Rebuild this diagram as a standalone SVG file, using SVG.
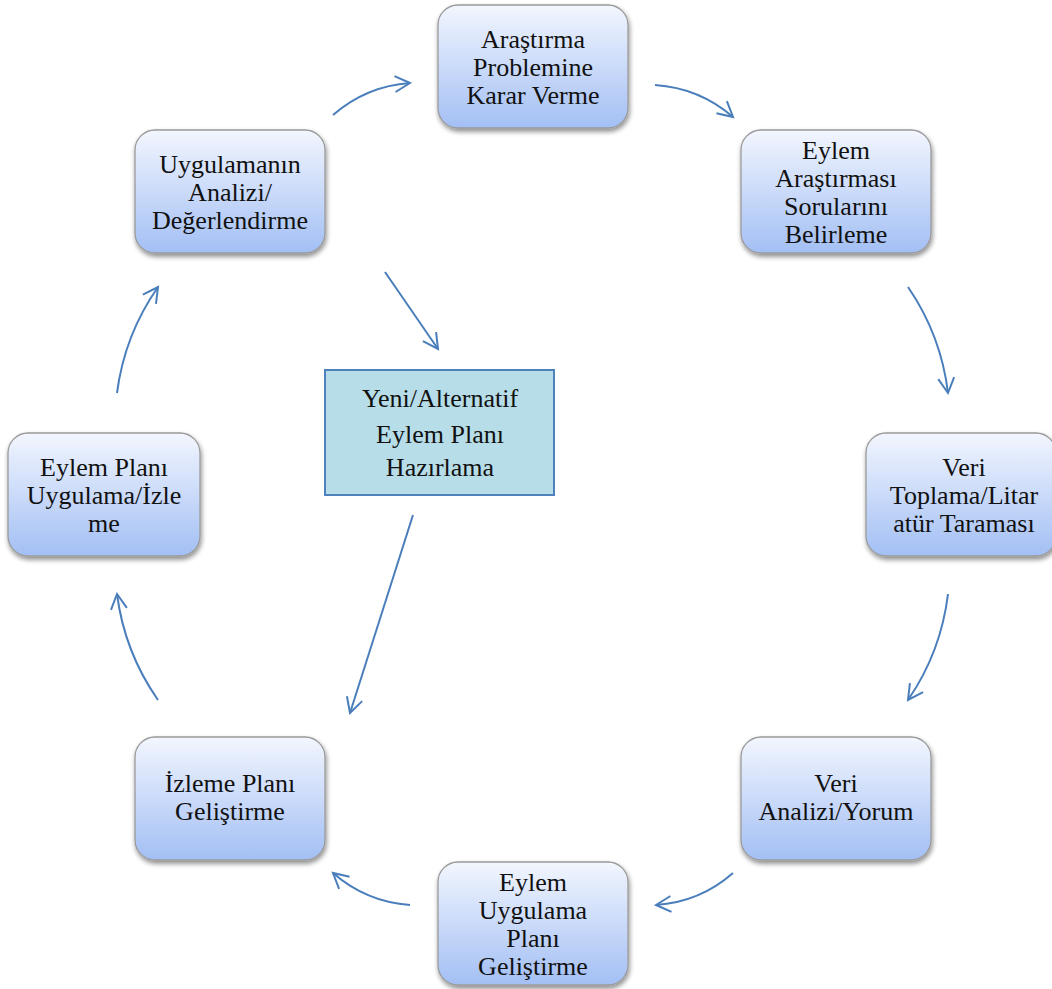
<svg xmlns="http://www.w3.org/2000/svg" width="1052" height="989" viewBox="0 0 1052 989">
<defs>
<linearGradient id="g" x1="0" y1="0" x2="0" y2="1">
<stop offset="0" stop-color="#f2f6fe"/>
<stop offset="1" stop-color="#a3bff4"/>
</linearGradient>
<filter id="sh" x="-10%" y="-10%" width="125%" height="130%">
<feGaussianBlur in="SourceAlpha" stdDeviation="2.5"/>
<feOffset dx="1" dy="3" result="b"/>
<feComponentTransfer><feFuncA type="linear" slope="0.45"/></feComponentTransfer>
<feMerge><feMergeNode/><feMergeNode in="SourceGraphic"/></feMerge>
</filter>
<marker id="ah" markerUnits="userSpaceOnUse" markerWidth="24" markerHeight="24" refX="16" refY="10" orient="auto">
<path d="M1,2 L16,10 L1,18" fill="none" stroke="#4a7ebb" stroke-width="2"/>
</marker>
</defs>
<style>
.n{fill:url(#g);stroke:#9a9a9a;stroke-width:1.3;filter:url(#sh)}
.t{font-family:"Liberation Serif","Times New Roman",serif;font-size:26px;fill:#111;text-anchor:middle}
.c{fill:none;stroke:#4a7ebb;stroke-width:2;marker-end:url(#ah)}
</style>
<rect width="1052" height="989" fill="#fff"/>
<g id="connectors">
<path class="c" d="M333,115 Q366.5,86 410,83"/>
<path class="c" d="M655,85 Q699.5,88 733,117"/>
<path class="c" d="M908,287 Q941,335 948,393"/>
<path class="c" d="M948,594 Q941,652 908,700"/>
<path class="c" d="M733,873 Q700,902 656,905"/>
<path class="c" d="M410,905 Q366.5,902 333,873"/>
<path class="c" d="M158,700 Q124.5,652 117,594"/>
<path class="c" d="M117,393 Q124.5,335 158,287"/>
<path class="c" d="M385,272 L438,349"/>
<path class="c" d="M413,515 L350,713"/>
</g>
<g id="n1"><rect class="n" x="438" y="5" width="190" height="123" rx="20"/>
<text class="t" x="533" y="47.5">Araştırma</text><text class="t" x="533" y="75.5">Problemine</text><text class="t" x="533" y="103.5">Karar Verme</text></g>
<g id="n2"><rect class="n" x="741" y="130" width="190" height="123" rx="20"/>
<text class="t" x="836" y="158.5">Eylem</text><text class="t" x="836" y="186.5">Araştırması</text><text class="t" x="836" y="214.5">Sorularını</text><text class="t" x="836" y="242.5">Belirleme</text></g>
<g id="n3"><rect class="n" x="866" y="433" width="190" height="123" rx="20"/>
<text class="t" x="964" y="475.5">Veri</text><text class="t" x="964" y="503.5">Toplama/Litar</text><text class="t" x="964" y="531.5">atür Taraması</text></g>
<g id="n4"><rect class="n" x="741" y="737" width="190" height="123" rx="20"/>
<text class="t" x="836" y="791.5">Veri</text><text class="t" x="836" y="819.5">Analizi/Yorum</text></g>
<g id="n5"><rect class="n" x="438" y="862" width="190" height="123" rx="20"/>
<text class="t" x="533" y="890.5">Eylem</text><text class="t" x="533" y="918.5">Uygulama</text><text class="t" x="533" y="946.5">Planı</text><text class="t" x="533" y="974.5">Geliştirme</text></g>
<g id="n6"><rect class="n" x="135" y="737" width="190" height="123" rx="20"/>
<text class="t" x="230" y="791.5">İzleme Planı</text><text class="t" x="230" y="819.5">Geliştirme</text></g>
<g id="n7"><rect class="n" x="8" y="433" width="192" height="123" rx="20"/>
<text class="t" x="104" y="475.5">Eylem Planı</text><text class="t" x="104" y="503.5">Uygulama/İzle</text><text class="t" x="104" y="531.5">me</text></g>
<g id="n8"><rect class="n" x="135" y="130" width="190" height="123" rx="20"/>
<text class="t" x="230" y="172.5">Uygulamanın</text><text class="t" x="230" y="200.5">Analizi/</text><text class="t" x="230" y="228.5">Değerlendirme</text></g>
<g id="center"><rect x="325" y="370" width="229" height="125" fill="#b7dde8" stroke="#4f81bd" stroke-width="2"/>
<text class="t" x="440" y="407">Yeni/Alternatif</text><text class="t" x="440" y="443">Eylem Planı</text><text class="t" x="440" y="476">Hazırlama</text></g>
</svg>
